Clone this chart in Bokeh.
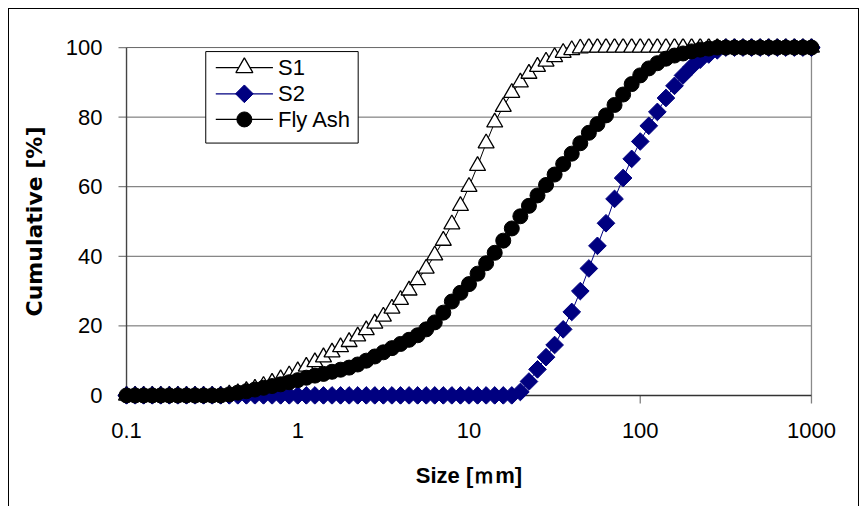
import math
from bokeh.plotting import figure
from bokeh.models import FixedTicker, BasicTickFormatter
from bokeh.core.properties import value
from bokeh.embed import file_html
from bokeh.resources import INLINE

# ---------------- data ----------------
SIZE_UM = [0.1, 0.1122, 0.1259, 0.1413, 0.1585, 0.1778, 0.1995, 0.2239, 0.2512, 0.2818,
           0.3162, 0.3548, 0.3981, 0.4467, 0.5012, 0.5623, 0.631, 0.7079, 0.7943, 0.8913,
           1.0, 1.122, 1.259, 1.413, 1.585, 1.778, 1.995, 2.239, 2.512, 2.818,
           3.162, 3.548, 3.981, 4.467, 5.012, 5.623, 6.31, 7.079, 7.943, 8.913,
           10.0, 11.22, 12.59, 14.13, 15.85, 17.78, 19.95, 22.39, 25.12, 28.18,
           31.62, 35.48, 39.81, 44.67, 50.12, 56.23, 63.1, 70.79, 79.43, 89.13,
           100.0, 112.2, 125.9, 141.3, 158.5, 177.8, 199.5, 223.9, 251.2, 281.8,
           316.2, 354.8, 398.1, 446.7, 501.2, 562.3, 631.0, 707.9, 794.3, 891.3,
           1000.0]

S1 = [0, 0, 0, 0, 0, 0, 0, 0, 0, 0,
      0, 0, 0.3, 0.7, 1.3, 2.0, 2.8, 3.7, 4.7, 5.8,
      7.0, 8.3, 9.6, 11.0, 12.4, 13.9, 15.4, 17.0, 18.8, 20.7,
      22.7, 25.0, 27.5, 30.2, 33.2, 36.5, 40.3, 44.5, 49.2, 54.5,
      60.0, 66.0, 72.5, 78.5, 83.0, 87.0, 90.0, 92.5, 94.5, 96.0,
      97.3, 98.5, 99.3, 99.8, 100, 100, 100, 100, 100, 100,
      100, 100, 100, 100, 100, 100, 100, 100, 100, 100,
      100, 100, 100, 100, 100, 100, 100, 100, 100, 100,
      100]

S2 = [0, 0, 0, 0, 0, 0, 0, 0, 0, 0,
      0, 0, 0, 0, 0, 0, 0, 0, 0, 0,
      0, 0, 0, 0, 0, 0, 0, 0, 0, 0,
      0, 0, 0, 0, 0, 0, 0, 0, 0, 0,
      0, 0, 0, 0, 0, 0, 1.0, 4.0, 7.5, 11.0,
      14.5, 19.0, 24.0, 30.0, 36.5, 43.0, 49.5, 56.5, 62.5, 68.0,
      73.0, 77.5, 81.5, 85.5, 89.0, 92.0, 94.5, 96.5, 98.0, 99.2,
      100, 100, 100, 100, 100, 100, 100, 100, 100, 100,
      100]

FLY_ASH = [0, 0, 0, 0, 0, 0, 0, 0, 0, 0,
           0, 0, 0.3, 0.8, 1.2, 1.7, 2.2, 2.7, 3.2, 3.8,
           4.4, 5.1, 5.7, 6.2, 6.8, 7.4, 8.0, 8.9, 10.0, 11.2,
           12.4, 13.6, 14.8, 16.0, 17.3, 19.0, 21.0, 23.8, 27.0, 29.5,
           32.0, 35.0, 38.0, 41.0, 44.5, 48.0, 51.5, 54.5, 57.5, 60.5,
           63.5, 66.5, 69.5, 72.5, 75.5, 78.0, 80.5, 83.5, 86.5, 89.5,
           92.0, 94.0, 95.5, 96.8, 97.7, 98.3, 98.9, 99.4, 99.7, 100,
           100, 100, 100, 100, 100, 100, 100, 100, 100, 100,
           100]

SERIES_NAMES = ["S1", "S2", "Fly Ash"]
X_TICKS = [0.1, 1, 10, 100, 1000]
X_TICK_LABELS = ["0.1", "1", "10", "100", "1000"]
Y_TICKS = [0, 20, 40, 60, 80, 100]
X_MIN, X_MAX = 0.1, 1000
Y_MIN, Y_MAX = 0, 100
X_TITLE = "Size [ｍm]"
Y_TITLE = "Cumulative [%]"

# ---------------- layout ----------------
FONT = "Liberation Sans"
W, H = 849, 498
PAD = 9                       # px of free room around the data area
PX_PER_DEC = 683 / 4.0
PX_PER_PCT = 346 / 100.0
DATA_LEFT_PX, DATA_BOTTOM_PX = 126, 393     # page pixel of (X_MIN, Y_MIN)
TICK = 8
NAVY = "#000080"


def px_to_x(px):
    return 10 ** (math.log10(X_MIN) + (px - DATA_LEFT_PX) / PX_PER_DEC)


def px_to_y(py):
    return Y_MIN + (DATA_BOTTOM_PX - py) / PX_PER_PCT


x_range = (px_to_x(DATA_LEFT_PX - PAD), 10 ** (math.log10(X_MAX) + PAD / PX_PER_DEC))
y_range = (Y_MIN - PAD / PX_PER_PCT, Y_MAX + PAD / PX_PER_PCT)

p = figure(width=W, height=H, x_axis_type="log", x_range=x_range, y_range=y_range,
           output_backend="svg", toolbar_location=None,
           min_border_left=108, min_border_right=40,
           min_border_top=29, min_border_bottom=105)
p.styles = {"margin-left": "8px", "margin-top": "8px", "border": "1px solid #000000",
            "box-sizing": "content-box"}
p.outline_line_color = None
p.background_fill_color = "white"
p.border_fill_color = "white"
p.xgrid.visible = False
p.ygrid.visible = False

# gridlines and plot-area right edge
p.segment(x0=[X_MIN] * (len(Y_TICKS) - 1), x1=[X_MAX] * (len(Y_TICKS) - 1),
          y0=Y_TICKS[1:], y1=Y_TICKS[1:], line_color="#666666", line_width=1,
          level="underlay")
p.segment(x0=[X_MAX], x1=[X_MAX], y0=[Y_MIN], y1=[Y_MAX],
          line_color="#8a8a8a", line_width=1.3, level="underlay")
# axis lines and tick marks
p.segment(x0=X_TICKS, x1=X_TICKS, y0=[Y_MIN] * len(X_TICKS),
          y1=[px_to_y(DATA_BOTTOM_PX + TICK)] * len(X_TICKS),
          line_color="#808080", line_width=1.3, level="underlay")
p.segment(x0=[px_to_x(DATA_LEFT_PX - TICK)] * len(Y_TICKS), x1=[X_MIN] * len(Y_TICKS),
          y0=Y_TICKS, y1=Y_TICKS, line_color="#808080", line_width=1.3, level="underlay")
p.segment(x0=[X_MIN], x1=[X_MAX], y0=[Y_MIN], y1=[Y_MIN],
          line_color="#333333", line_width=1.4, level="underlay")
p.segment(x0=[X_MIN], x1=[X_MIN], y0=[Y_MIN], y1=[Y_MAX],
          line_color="#444444", line_width=1.4, level="underlay")

# axes (labels and titles only)
xa = p.xaxis[0]
xa.ticker = FixedTicker(ticks=X_TICKS)
xa.formatter = BasicTickFormatter()
xa.major_label_overrides = {t: l for t, l in zip(X_TICKS, X_TICK_LABELS)}
xa.axis_line_color = None
xa.major_tick_line_color = None
xa.minor_tick_line_color = None
xa.major_tick_in = 0
xa.major_tick_out = 0
xa.major_label_standoff = 18
xa.major_label_text_font = FONT
xa.major_label_text_font_size = "22px"
xa.major_label_text_color = "black"
xa.axis_label = X_TITLE
xa.axis_label_text_font = FONT
xa.axis_label_text_font_style = "bold"
xa.axis_label_text_font_size = "22px"
xa.axis_label_text_color = "black"
xa.axis_label_standoff = 22

ya = p.yaxis[0]
ya.ticker = FixedTicker(ticks=Y_TICKS)
ya.axis_line_color = None
ya.major_tick_line_color = None
ya.minor_tick_line_color = None
ya.major_tick_in = 0
ya.major_tick_out = 0
ya.major_label_standoff = 15
ya.major_label_text_font = FONT
ya.major_label_text_font_size = "22px"
ya.major_label_text_color = "black"
ya.axis_label = Y_TITLE
ya.axis_label_text_font = "DejaVu Sans"
ya.axis_label_text_font_style = "bold"
ya.axis_label_text_font_size = "22px"
ya.axis_label_text_color = "black"
ya.axis_label_standoff = 16

# series
p.line(SIZE_UM, S1, line_color="black", line_width=1)
p.scatter(SIZE_UM, S1, marker="triangle", size=16, fill_color="white",
          line_color="black", line_width=1.3)
p.line(SIZE_UM, S2, line_color=NAVY, line_width=1)
p.scatter(SIZE_UM, S2, marker="square", size=12.5, angle=math.pi / 4,
          fill_color=NAVY, line_color=NAVY, line_width=1)
p.line(SIZE_UM, FLY_ASH, line_color="black", line_width=1)
p.scatter(SIZE_UM, FLY_ASH, marker="circle", size=15, fill_color="black",
          line_color="black", line_width=1)

# legend (box, sample lines, markers, labels)
LEG_L, LEG_R, LEG_T, LEG_B = 205, 357, 51, 142
ROW_Y = [67, 93, 118.5]
SAMPLE_X0, SAMPLE_X1, LABEL_X = 215, 272, 277
p.quad(left=[px_to_x(LEG_L)], right=[px_to_x(LEG_R)],
       top=[px_to_y(LEG_T)], bottom=[px_to_y(LEG_B)],
       fill_color="white", line_color="black", line_width=1)
row_y = [px_to_y(v) for v in ROW_Y]
p.segment(x0=[px_to_x(SAMPLE_X0)] * 3, x1=[px_to_x(SAMPLE_X1)] * 3, y0=row_y, y1=row_y,
          line_color=["black", NAVY, "black"], line_width=1.2)
mx = px_to_x((SAMPLE_X0 + SAMPLE_X1) / 2)
p.scatter([mx], [row_y[0]], marker="triangle", size=17, fill_color="white",
          line_color="black", line_width=1.3)
p.scatter([mx], [row_y[1]], marker="square", size=12.5, angle=math.pi / 4,
          fill_color=NAVY, line_color=NAVY)
p.scatter([mx], [row_y[2]], marker="circle", size=15, fill_color="black",
          line_color="black")
p.text(x=[px_to_x(LABEL_X)] * 3, y=row_y, text=SERIES_NAMES,
       text_font=value(FONT), text_font_size="22px", text_color="black",
       text_baseline="middle", text_align="left")

open("out.html", "w").write(file_html(p, INLINE))
